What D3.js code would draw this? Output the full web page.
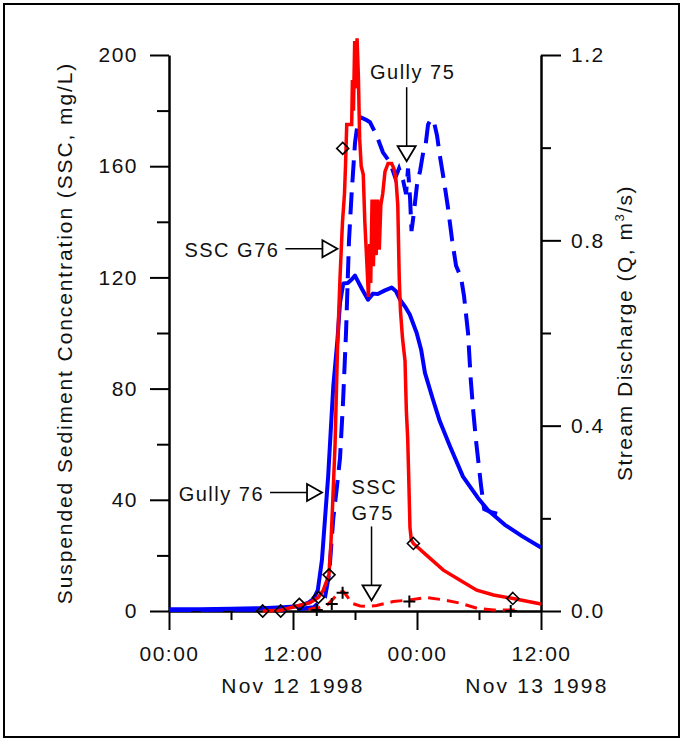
<!DOCTYPE html>
<html>
<head>
<meta charset="utf-8">
<script src="https://cdn.jsdelivr.net/npm/d3@7"></script>
<style>
  body { margin: 0; background: #fff; }
  text { font-family: "Liberation Sans", Arial, sans-serif; fill: #111; }
</style>
</head>
<body>
<div id="chart"></div>
<script>
// hours since Nov 12 1998 00:00
var g76QHours = [0, 3, 6, 9, 11, 12.5, 13.5, 14.0, 14.4, 14.8, 15.1, 15.4, 15.68, 15.9, 16.3, 16.55, 16.87, 17.3, 17.7, 18.0,
  18.3, 18.7, 19.26, 19.74, 20.2, 20.9, 21.55, 21.97, 22.36, 22.84, 23.3, 23.97, 24.4, 24.77, 25.55, 26.2, 27.2, 28.45,
  29.9, 30.9, 32.5, 34.2, 36];
var g76Q = [0.004, 0.004, 0.005, 0.006, 0.008, 0.01, 0.018, 0.026, 0.045, 0.11, 0.2, 0.29, 0.40, 0.485, 0.585, 0.665, 0.707, 0.708, 0.716, 0.724,
  0.711, 0.694, 0.672, 0.685, 0.684, 0.692, 0.698, 0.69, 0.672, 0.657, 0.64, 0.60, 0.564, 0.514, 0.456, 0.41, 0.355, 0.29,
  0.244, 0.217, 0.186, 0.161, 0.137];

var g75QHours = [0, 12, 14, 15.1, 15.5, 15.9, 16.26, 16.55, 16.84, 17.13, 17.42, 17.67, 18.0, 18.3, 18.6, 19.07, 19.45, 20.1,
  20.7, 21.4, 21.9, 22.26, 22.65, 22.94, 23.13, 23.33, 23.47, 23.7, 24.0, 24.3, 24.6, 24.8, 25.07, 25.36, 25.65, 25.94,
  26.23, 26.6, 27.0, 27.4, 27.78, 28.26, 28.55, 28.94, 29.2, 29.45, 29.7, 30.0, 30.2, 30.5, 31.1, 31.75];
var g75Q = [0.002, 0.003, 0.008, 0.03, 0.08, 0.2, 0.27, 0.33, 0.45, 0.6, 0.8, 0.9, 1.01, 1.06, 1.065, 1.06, 1.055, 1.026,
  0.99, 0.968, 0.935, 0.955, 0.93, 0.90, 0.955, 0.89, 0.82, 0.86, 0.92, 0.95, 0.99, 1.0, 1.05, 1.062, 1.055, 1.026,
  0.98, 0.93, 0.87, 0.8, 0.745, 0.72, 0.68, 0.6, 0.5, 0.43, 0.37, 0.31, 0.27, 0.22, 0.214, 0.21];

var sscG76Hours = [9.07, 10.81, 12.61, 13.65, 14.45, 14.93, 15.48, 15.68, 15.83, 16.07, 16.31, 16.55, 16.79, 16.98, 17.08, 17.2,
  17.68, 17.75, 17.85, 17.97, 18.07, 18.2, 18.33, 18.45, 18.6, 18.8, 18.95, 19.15, 19.3, 19.42, 19.52, 19.65, 19.78, 19.92,
  20.05, 20.2, 20.35, 20.5, 20.68, 20.9, 21.2, 21.55, 21.78, 21.97, 22.14, 22.28, 22.4, 22.6, 22.84, 22.97, 23.1, 23.2,
  23.32, 23.45, 23.65, 24.94, 26.55, 28.17, 29.78, 31.4, 33.3, 36];
var sscG76 = [0, 0.3, 2.0, 3.0, 4.9, 7.5, 13, 25, 38, 60, 95, 120, 140, 150, 160, 175,
  175, 191, 180, 205, 188, 206, 192, 170, 160, 157, 140, 125, 113, 132, 118, 148, 124, 148,
  128, 148, 130, 146, 150, 158, 161, 161, 159, 155, 146, 120, 108, 98, 90, 72, 62, 48,
  30, 25.5, 24.3, 20, 14.7, 11.1, 7.5, 5.75, 4.5, 2.5];

var sscG75Hours = [13.5, 13.97, 14.6, 15.26, 15.8, 16.23, 16.55, 16.87, 17.2, 17.68, 18.5, 19.26, 20.1, 21.7, 23.3, 24.9,
  26.55, 28.2, 29.8, 31.4, 34.0];
var sscG75 = [0.5, 1, 1.3, 2, 4, 5.8, 6.8, 7, 5.5, 2.8, 1.8, 1.7, 2.0, 3.4, 4.0, 4.9, 4.0, 2.8, 1.0, 0.4, 0.4];

// sampled SSC
var diamondHours = [9.07, 10.81, 12.61, 14.45, 15.49, 16.81, 23.65, 33.27];
var diamondSSC = [0, 0, 2.4, 4.9, 13, 166.4, 24.3, 4.5];
var plusHours = [14.3, 15.75, 16.8, 23.26, 33.07];
var plusSSC = [0.4, 2.5, 6.6, 3.4, 0];

// axis ticks and labels
var sscTicks = [0, 40, 80, 120, 160, 200];
var sscMinor = [20, 60, 100, 140, 180];
var qTicks = [0, 0.4, 0.8, 1.2];
var qMinor = [0.2, 0.6, 1.0];
var timeTickHours = [0, 12, 24, 36];
var timeMinorHours = [6, 18, 30];
var timeLabels = ["00:00", "12:00", "00:00", "12:00"];
var dateLabelHours = [12, 36];
var dateLabels = ["Nov 12 1998", "Nov 13 1998"];

var t0 = new Date(1998, 10, 12, 0, 0);
function toDate(h) { return new Date(t0.getTime() + h * 3600e3); }

var margin = {top: 55, right: 142, bottom: 129, left: 169},
    width = 683 - margin.left - margin.right,
    height = 740 - margin.top - margin.bottom;

var root = d3.select("#chart")
  .append("svg")
    .attr("width", 683)
    .attr("height", 740);

// frame
root.append("rect")
  .attr("x", 4).attr("y", 4)
  .attr("width", 675).attr("height", 733)
  .attr("fill", "none")
  .attr("stroke", "#000")
  .attr("stroke-width", 2);

var svg = root.append("g")
  .attr("transform", `translate(${margin.left},${margin.top})`);

var x = d3.scaleTime()
  .domain([toDate(0), toDate(36)])
  .range([0, width]);
var ySSC = d3.scaleLinear().domain([0, 200]).range([height, 0]);
var yQ = d3.scaleLinear().domain([0, 1.2]).range([height, 0]);

var fontSize = 21;

// left axis
svg.append("g")
  .call(d3.axisLeft(ySSC).tickValues(sscTicks).tickSize(19).tickSizeOuter(0).tickPadding(12));
svg.append("g")
  .call(d3.axisLeft(ySSC).tickValues(sscMinor).tickSize(12).tickFormat(""))
  .select(".domain").remove();

// right axis
svg.append("g")
  .attr("transform", `translate(${width},0)`)
  .call(d3.axisRight(yQ).tickValues(qTicks).tickSize(20).tickSizeOuter(0).tickPadding(10).tickFormat(d3.format(".1f")));
svg.append("g")
  .attr("transform", `translate(${width},0)`)
  .call(d3.axisRight(yQ).tickValues(qMinor).tickSize(10).tickFormat(""))
  .select(".domain").remove();

// bottom axis
var bottom = svg.append("g")
  .attr("transform", `translate(0,${height})`)
  .call(d3.axisBottom(x).tickValues(timeTickHours.map(toDate)).tickSize(19).tickSizeOuter(0)
    .tickFormat((d, i) => timeLabels[i]));
bottom.selectAll("text").attr("y", 50).attr("dy", 0);
svg.append("g")
  .attr("transform", `translate(0,${height})`)
  .call(d3.axisBottom(x).tickValues(timeMinorHours.map(toDate)).tickSize(9).tickFormat(""))
  .select(".domain").remove();

svg.selectAll(".domain").attr("stroke-width", 2.5);
svg.selectAll(".tick line").attr("stroke-width", 2);
svg.selectAll(".tick text")
  .style("font-size", fontSize + "px")
  .style("letter-spacing", "1.5px")
  .attr("fill", "#111");

// date labels under the 12:00 ticks
svg.selectAll(".datelabel")
  .data(dateLabels)
  .join("text")
    .attr("x", (d, i) => x(toDate(dateLabelHours[i])) - (i == 1 ? 4 : 0))
    .attr("y", height + 82)
    .attr("text-anchor", "middle")
    .style("font-size", fontSize + "px")
    .style("letter-spacing", "2.2px")
    .text(d => d);

// axis titles
svg.append("text")
  .attr("transform", `translate(${-97},${height / 2}) rotate(-90)`)
  .attr("text-anchor", "middle")
  .style("font-size", fontSize + "px")
  .style("letter-spacing", "1.9px")
  .text("Suspended Sediment Concentration (SSC, mg/L)");

var rt = svg.append("text")
  .attr("transform", `translate(${width + 91},${height / 2}) rotate(-90)`)
  .attr("text-anchor", "middle")
  .style("font-size", fontSize + "px")
  .style("letter-spacing", "1.5px");
rt.append("tspan").text("Stream Discharge (Q, m");
rt.append("tspan").attr("dy", -8).style("font-size", "13px").text("3");
rt.append("tspan").attr("dy", 8).text("/s)");

// series
function pts(hours, vals) { return d3.zip(hours, vals).map(p => ({t: toDate(p[0]), v: p[1]})); }

var lineQ = d3.line().x(d => x(d.t)).y(d => yQ(d.v));
var lineSSC = d3.line().x(d => x(d.t)).y(d => ySSC(d.v));

svg.append("path")
  .datum(pts(g75QHours, g75Q))
  .attr("fill", "none")
  .attr("stroke", "#0000ff")
  .attr("stroke-width", 4)
  .attr("stroke-dasharray", "22,10")
  .attr("d", lineQ);

svg.append("path")
  .datum(pts(g76QHours, g76Q))
  .attr("fill", "none")
  .attr("stroke", "#0000ff")
  .attr("stroke-width", 4)
  .attr("stroke-linejoin", "round")
  .attr("d", lineQ);

svg.append("path")
  .datum(pts(sscG75Hours, sscG75))
  .attr("fill", "none")
  .attr("stroke", "#ff0000")
  .attr("stroke-width", 3)
  .attr("stroke-dasharray", "12,7")
  .attr("d", lineSSC);

svg.append("path")
  .datum(pts(sscG76Hours, sscG76))
  .attr("fill", "none")
  .attr("stroke", "#ff0000")
  .attr("stroke-width", 3.5)
  .attr("d", lineSSC);

// sample markers
svg.selectAll(".diamond")
  .data(pts(diamondHours, diamondSSC))
  .join("path")
    .attr("transform", d => `translate(${x(d.t)},${ySSC(d.v)})`)
    .attr("d", "M0,-6L6,0L0,6L-6,0Z")
    .attr("fill", "none")
    .attr("stroke", "#000")
    .attr("stroke-width", 1.6);

svg.selectAll(".plus")
  .data(pts(plusHours, plusSSC))
  .join("path")
    .attr("transform", d => `translate(${x(d.t)},${ySSC(d.v)})`)
    .attr("d", "M-6,0H6M0,-6V6")
    .attr("stroke", "#000")
    .attr("stroke-width", 2);

// annotations: arrow tip in data units (hours, SSC), text offsets in px
function arrowDown(h, v, len) {
  var tx = x(toDate(h)), ty = ySSC(v);
  svg.append("line").attr("x1", tx).attr("x2", tx).attr("y1", ty - 15 - len).attr("y2", ty - 15)
    .attr("stroke", "#000").attr("stroke-width", 1.5);
  svg.append("path").attr("d", `M${tx},${ty}L${tx - 9},${ty - 15}L${tx + 9},${ty - 15}Z`)
    .attr("fill", "#fff").attr("stroke", "#000").attr("stroke-width", 1.8);
  return [tx, ty];
}
function arrowRight(h, v, len) {
  var tx = x(toDate(h)), ty = ySSC(v);
  svg.append("line").attr("x1", tx - 15 - len).attr("x2", tx - 15).attr("y1", ty).attr("y2", ty)
    .attr("stroke", "#000").attr("stroke-width", 1.5);
  svg.append("path").attr("d", `M${tx},${ty}L${tx - 15},${ty - 8.5}L${tx - 15},${ty + 8.5}Z`)
    .attr("fill", "#fff").attr("stroke", "#000").attr("stroke-width", 1.8);
  return [tx, ty];
}
function label(txt, px, py, anchor) {
  svg.append("text").attr("x", px).attr("y", py).attr("text-anchor", anchor)
    .style("font-size", "20px").style("letter-spacing", "1.5px").text(txt);
}

var a = arrowDown(23.0, 161.8, 59);
label("Gully 75", a[0] + 6, a[1] - 82, "middle");

var b = arrowRight(16.3, 130.3, 37);
label("SSC G76", b[0] - 58, b[1] + 8, "end");

var c = arrowRight(14.81, 42.6, 37);
label("Gully 76", c[0] - 58, c[1] + 8, "end");

var e = arrowDown(19.6, 3.8, 59);
label("SSC", e[0] - 20, e[1] - 106, "start");
label("G75", e[0] - 20, e[1] - 80, "start");
</script>
</body>
</html>
